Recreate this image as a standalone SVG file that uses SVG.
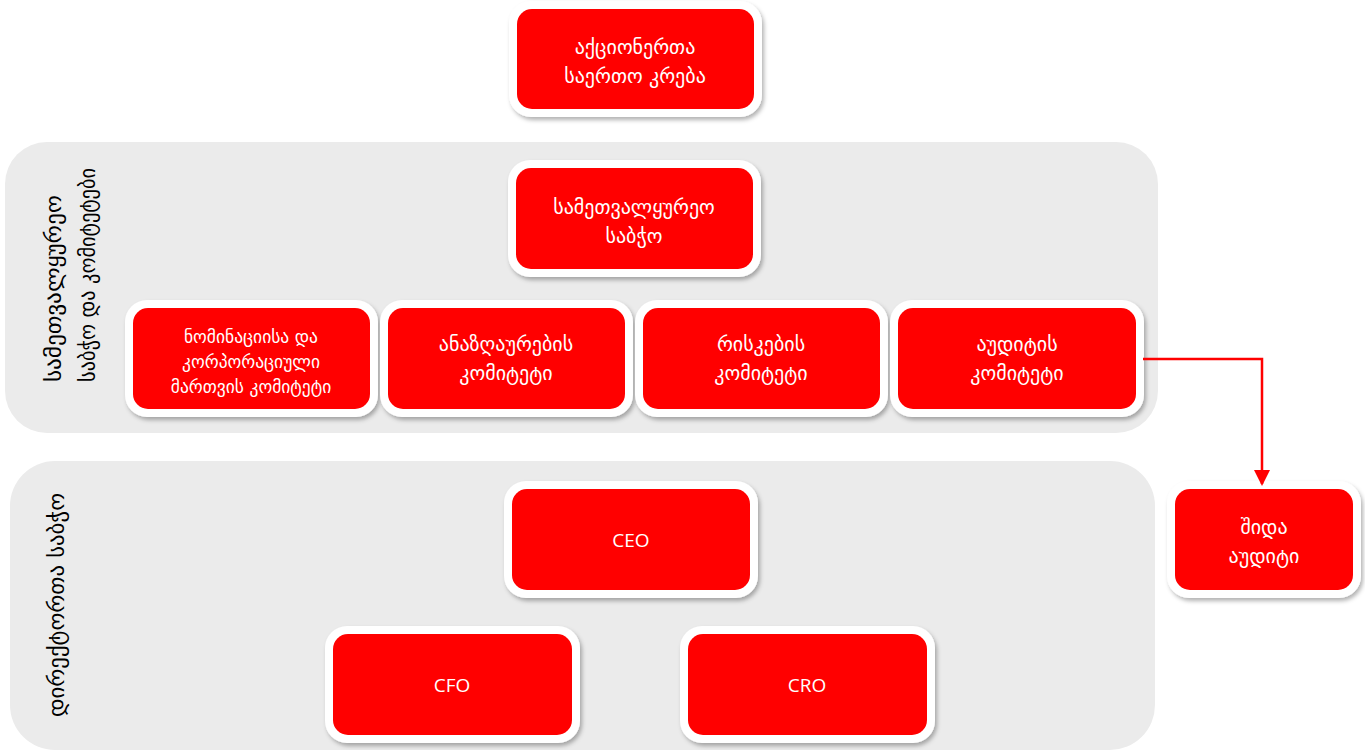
<svg xmlns="http://www.w3.org/2000/svg" width="1365" height="750" viewBox="0 0 1365 750">
<style>
.panel{fill:#ebebeb}
.frame{fill:#fff;filter:url(#sh)}
.box{fill:#ff0000}
.t{fill:#fff;font-family:"DejaVu Sans",sans-serif;font-size:20px;text-anchor:middle}
.t3{font-size:17.5px}
.en{fill:#fff;font-family:"Open Sans","Liberation Sans",sans-serif;font-size:19px;text-anchor:middle}
.lab{fill:#000;font-family:"DejaVu Sans",sans-serif;font-size:22px}
.conn{fill:none;stroke:#ff0000;stroke-width:2.5}
</style>
<defs>
<filter id="sh" x="-10%" y="-10%" width="120%" height="130%">
<feDropShadow dx="2" dy="3" stdDeviation="2" flood-color="#000" flood-opacity="0.3"/>
</filter>
<marker id="ah" markerWidth="16" markerHeight="16" refX="14" refY="8" orient="auto" markerUnits="userSpaceOnUse">
<path d="M0,0 L16,8 L0,16 Z" fill="#ff0000"/>
</marker>
</defs>
<rect width="1365" height="750" fill="#fff"/>

<g id="panel-board">
<rect class="panel" x="5" y="142" width="1153" height="291" rx="42"/>
<text class="lab" transform="translate(61,382) rotate(-90)" textLength="187" lengthAdjust="spacingAndGlyphs">სამეთვალყურეო</text>
<text class="lab" transform="translate(95,382) rotate(-90)" textLength="214" lengthAdjust="spacingAndGlyphs">საბჭო და კომიტეტები</text>
</g>
<g id="panel-directors">
<rect class="panel" x="10" y="461" width="1145" height="289" rx="45"/>
<text class="lab" text-anchor="middle" transform="translate(64,605) rotate(-90)" textLength="224" lengthAdjust="spacingAndGlyphs">დირექტორთა საბჭო</text>
</g>

<g id="shareholders">
<rect class="frame" x="509" y="1" width="253" height="116" rx="22"/>
<rect class="box" x="517" y="9" width="237" height="100" rx="15"/>
<text class="t" x="635" y="54">აქციონერთა</text>
<text class="t" x="635" y="83">საერთო კრება</text>
</g>

<g id="supervisory-board">
<rect class="frame" x="508" y="160" width="253" height="117" rx="22"/>
<rect class="box" x="516" y="168" width="237" height="101" rx="15"/>
<text class="t" x="634" y="214">სამეთვალყურეო</text>
<text class="t" x="634" y="243">საბჭო</text>
</g>

<g id="nomination-committee">
<rect class="frame" x="125" y="300" width="253" height="117" rx="22"/>
<rect class="box" x="133" y="308" width="237" height="101" rx="15"/>
<text class="t t3" x="251" y="343">ნომინაციისა და</text>
<text class="t t3" x="251" y="368">კორპორაციული</text>
<text class="t t3" x="251" y="393">მართვის კომიტეტი</text>
</g>

<g id="remuneration-committee">
<rect class="frame" x="380" y="300" width="253" height="117" rx="22"/>
<rect class="box" x="388" y="308" width="237" height="101" rx="15"/>
<text class="t" x="506" y="351">ანაზღაურების</text>
<text class="t" x="506" y="380">კომიტეტი</text>
</g>

<g id="risk-committee">
<rect class="frame" x="635" y="300" width="253" height="117" rx="22"/>
<rect class="box" x="643" y="308" width="237" height="101" rx="15"/>
<text class="t" x="761" y="351">რისკების</text>
<text class="t" x="761" y="380">კომიტეტი</text>
</g>

<g id="audit-committee">
<rect class="frame" x="890" y="300" width="254" height="117" rx="22"/>
<rect class="box" x="898" y="308" width="238" height="101" rx="15"/>
<text class="t" x="1017" y="351">აუდიტის</text>
<text class="t" x="1017" y="380">კომიტეტი</text>
</g>

<g id="ceo">
<rect class="frame" x="504" y="481" width="254" height="117" rx="22"/>
<rect class="box" x="512" y="489" width="238" height="101" rx="15"/>
<text class="en" x="631" y="547">CEO</text>
</g>

<g id="cfo">
<rect class="frame" x="325" y="626" width="255" height="117" rx="22"/>
<rect class="box" x="333" y="634" width="239" height="101" rx="15"/>
<text class="en" x="452" y="692">CFO</text>
</g>

<g id="cro">
<rect class="frame" x="680" y="626" width="255" height="117" rx="22"/>
<rect class="box" x="688" y="634" width="239" height="101" rx="15"/>
<text class="en" x="807" y="692">CRO</text>
</g>

<g id="internal-audit">
<rect class="frame" x="1167" y="481" width="194" height="117" rx="22"/>
<rect class="box" x="1175" y="489" width="178" height="101" rx="15"/>
<text class="t" x="1264" y="534">შიდა</text>
<text class="t" x="1264" y="563">აუდიტი</text>
</g>

<g id="connectors">
<path class="conn" d="M1143,359 H1262 V484" marker-end="url(#ah)"/>
</g>
</svg>
